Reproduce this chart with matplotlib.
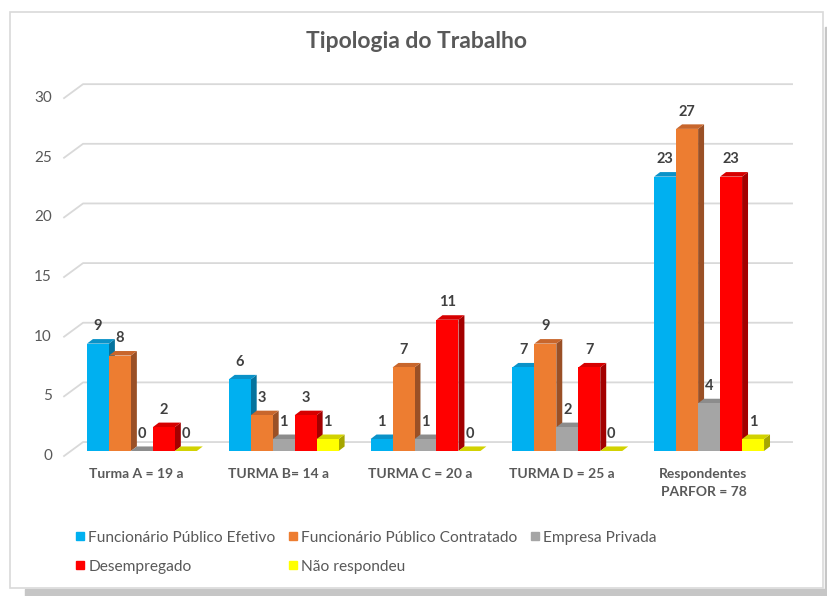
"""Tipologia do Trabalho - 3D-style clustered columns (Excel look)."""
import matplotlib
matplotlib.use("Agg")
import matplotlib.pyplot as plt
from matplotlib.patches import Polygon, Rectangle
from matplotlib.lines import Line2D

categories = ["Turma A = 19 a", "TURMA B= 14 a", "TURMA C = 20 a",
              "TURMA D = 25 a", "Respondentes\nPARFOR = 78"]
series_names = ["Funcionário Público Efetivo", "Funcionário Público Contratado",
                "Empresa Privada", "Desempregado", "Não respondeu"]
efetivo = [9, 6, 1, 7, 23]
contratado = [8, 3, 7, 9, 27]
privada = [0, 1, 1, 2, 4]
desempregado = [2, 3, 11, 7, 23]
nao_respondeu = [0, 1, 0, 0, 1]
yticks = [0, 5, 10, 15, 20, 25, 30]

series = [efetivo, contratado, privada, desempregado, nao_respondeu]
front_c = ["#00B0F0", "#ED7D31", "#A5A5A5", "#FF0000", "#FFFF00"]
top_c = ["#0a92c8", "#c8662c", "#8c8c8c", "#d60000", "#d2d200"]
side_c = ["#04739e", "#9a5026", "#737373", "#a30000", "#a6a600"]
TXT = "#595959"
plt.rcParams["font.family"] = ["Lato", "DejaVu Sans"]

fig = plt.figure(figsize=(8.28, 5.96), dpi=100)
ax = fig.add_axes([71 / 828, 0.2233, 709 / 828, 0.6405])
ax.set_xlim(-0.5, 4.5)
ax.set_ylim(-1, 31)
ax.axis("off")

# chart frame + shadow (figure pixels -> fraction)
W, H = 828, 596
def fr(x, y):
    return x / W, 1 - y / H
fig.patches.append(Rectangle(fr(25, 596), 803 / W, 7 / H, transform=fig.transFigure,
                             color="#c6c6c6", zorder=-2))
fig.patches.append(Rectangle(fr(825, 596), 3 / W, 569 / H, transform=fig.transFigure,
                             color="#c6c6c6", zorder=-2))
fig.patches.append(Rectangle(fr(10, 588), 813 / W, 576 / H, transform=fig.transFigure,
                             facecolor="white", edgecolor="#d9d9d9", lw=1.2, zorder=-1))

# walls / gridlines (side wall diagonal + back wall line)
xf, xb, xr = -0.549, -0.415, 4.585
for v in yticks:
    ax.plot([xf, xb, xr], [v - 0.42, v + 0.75, v + 0.75], color="#d9d9d9",
            lw=1.3, zorder=1, clip_on=False)
    ax.text(-0.634, v - 0.42, str(v), ha="right", va="center", fontsize=11,
            color=TXT)

bw = 0.155
dx, dy = 0.042, 0.38
z = 2
for i in range(len(categories)):
    for k, vals in enumerate(series):
        h = vals[i]
        x0 = i + (k - 2.5) * bw
        side = Polygon([(x0 + bw, 0), (x0 + bw + dx, dy), (x0 + bw + dx, h + dy),
                        (x0 + bw, h)], closed=True, fc=side_c[k], ec="none", zorder=z)
        top = Polygon([(x0, h), (x0 + bw, h), (x0 + bw + dx, h + dy), (x0 + dx, h + dy)],
                      closed=True, fc=top_c[k], ec="none", zorder=z + 0.01)
        ax.add_patch(side)
        ax.add_patch(top)
        ax.bar(x0, h, width=bw, align="edge", color=front_c[k], lw=0, zorder=z + 0.02)
        ax.annotate(str(h), (x0 + bw / 2, h), xytext=(0, 12.5), textcoords="offset points",
                    ha="center", va="center", fontsize=10.5, fontweight="bold",
                    color="#404040", zorder=50)
        z += 0.1

for i, cat in enumerate(categories):
    ax.text(i - 0.04, -1.42, cat, ha="center", va="top", fontsize=10,
            fontweight="bold", color=TXT, linespacing=1.65)

fig.text(417 / W, 1 - 42 / H, "Tipologia do Trabalho", ha="center", va="center",
         fontsize=16.5, fontweight="bold", color=TXT)

handles = [Line2D([], [], marker="s", ls="none", markersize=5.5, color=c) for c in front_c]
order = [0, 3, 1, 4, 2]
fig.legend([handles[j] for j in order], [series_names[j] for j in order],
           loc="upper left", bbox_to_anchor=(68 / W, 1 - 523 / H), ncol=3,
           frameon=False, fontsize=11.2, labelcolor=TXT, handlelength=0.5,
           handletextpad=0.3, columnspacing=0.85, labelspacing=0.95, borderpad=0)

fig.savefig("out.png", dpi=100)
